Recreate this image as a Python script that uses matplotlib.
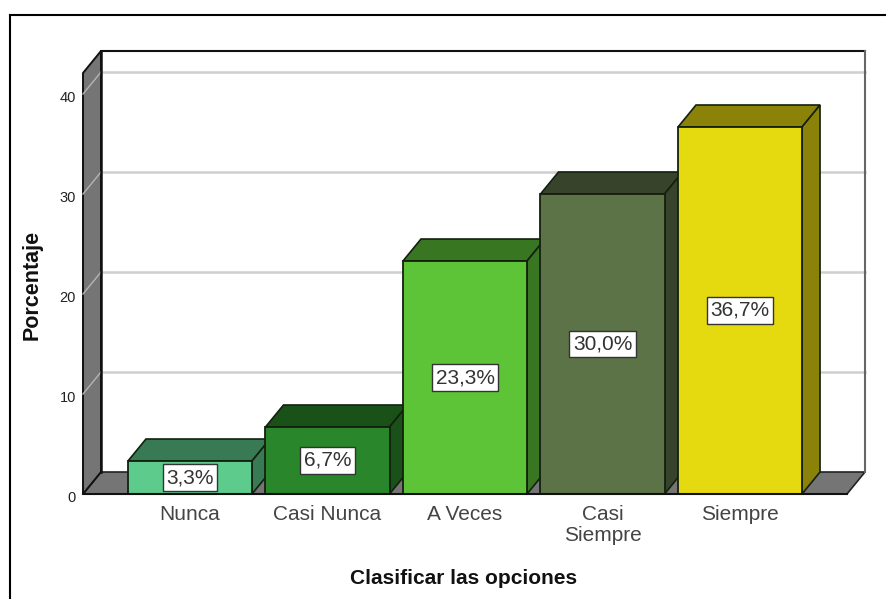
import matplotlib
matplotlib.use('Agg')
import matplotlib.pyplot as plt
from matplotlib.lines import Line2D
from matplotlib.patches import Polygon
from matplotlib.transforms import ScaledTranslation

plt.rcParams['font.family'] = ['Liberation Sans', 'DejaVu Sans']

categorias = ['Nunca', 'Casi Nunca', 'A Veces', 'Casi\nSiempre', 'Siempre']
porcentajes = [3.3, 6.7, 23.3, 30.0, 36.7]
etiquetas = ['3,3%', '6,7%', '23,3%', '30,0%', '36,7%']
marcas_y = [0, 10, 20, 30, 40]

colores_frente = ['#5CCB8C', '#2A862A', '#5EC437', '#5C7247', '#E5D90F']
colores_oscuros = ['#387A54', '#1A5119', '#387622', '#37442B', '#8A8209']

ANCHO, ALTO = 886, 599
fig = plt.figure(figsize=(ANCHO / 100, ALTO / 100), dpi=100, facecolor='white')

# el plano frontal va de x=83 a 847 y de y=73 a 494 (pixeles de la imagen)
ax = fig.add_axes([83 / ANCHO, 1 - 494 / ALTO, (847 - 83) / ANCHO, (494 - 73) / ALTO])
x0, x1 = -0.778, 4.778
y0, y1 = 0, 42.1
ax.set_xlim(x0, x1)
ax.set_ylim(y0, y1)
ax.patch.set_alpha(0)
for s in ax.spines.values():
    s.set_visible(False)

# profundidad en unidades de datos
dx = 18 / 137.5
dy = 2.2
ancho_barra = 0.902
GRIS = '#757575'

# piso y pared izquierda
ax.add_patch(Polygon([(x0, 0), (x1, 0), (x1 + dx, dy), (x0 + dx, dy)], closed=True,
                     facecolor=GRIS, edgecolor='#222222', lw=1.2, zorder=1, clip_on=False))
ax.add_patch(Polygon([(x0, 0), (x0 + dx, dy), (x0 + dx, y1 + dy), (x0, y1)], closed=True,
                     facecolor=GRIS, edgecolor='#111111', lw=1.4, zorder=1, clip_on=False))

# lineas de la pared del fondo
for v in marcas_y[1:]:
    ax.add_line(Line2D([x0 + dx, x1 + dx], [v + dy, v + dy], color='#CFCFCF', lw=1.8,
                       zorder=2, clip_on=False))
    ax.add_line(Line2D([x0, x0 + dx], [v, v + dy], color='#B5B5B5', lw=1.0,
                       zorder=2, clip_on=False))
ax.add_line(Line2D([x0 + dx, x1 + dx], [y1 + dy, y1 + dy], color='#111111', lw=1.5,
                   zorder=3, clip_on=False))
ax.add_line(Line2D([x0 + dx, x0 + dx], [dy, y1 + dy], color='#111111', lw=1.8,
                   zorder=3, clip_on=False))
ax.add_line(Line2D([x1 + dx, x1 + dx], [dy, y1 + dy], color='#666666', lw=1.5,
                   zorder=3, clip_on=False))

# barras, de izquierda a derecha para que cada una tape a la anterior
posiciones = list(range(len(categorias)))
for i, (v, cf, co) in enumerate(zip(porcentajes, colores_frente, colores_oscuros)):
    z = 5 + i
    izq = i - ancho_barra / 2
    der = i + ancho_barra / 2
    ax.add_patch(Polygon([(izq, v), (der, v), (der + dx, v + dy), (izq + dx, v + dy)], closed=True,
                         facecolor=co, edgecolor='#14200F', lw=1.2, zorder=z, clip_on=False))
    ax.add_patch(Polygon([(der, 0), (der + dx, dy), (der + dx, v + dy), (der, v)], closed=True,
                         facecolor=co, edgecolor='#14200F', lw=1.2, zorder=z, clip_on=False))
    ax.bar(i, v, width=ancho_barra, color=cf, edgecolor='#14200F', lw=1.3, zorder=z + 0.5,
           clip_on=False)

for i, (v, et) in enumerate(zip(porcentajes, etiquetas)):
    ax.text(i, v / 2, et, ha='center', va='center', fontsize=15, color='#333333', zorder=20,
            bbox=dict(boxstyle='square,pad=0.17', facecolor='white', edgecolor='#333333', lw=1.0))

# linea de base
ax.add_line(Line2D([x0, x1], [0, 0], color='#111111', lw=1.5, zorder=15, clip_on=False))

ax.set_xticks(posiciones)
ax.set_xticklabels(categorias, fontsize=15, color='#444444', linespacing=1.15)
ax.set_yticks(marcas_y)
ax.set_yticklabels([str(v) for v in marcas_y], fontsize=10.5, color='#222222')
ax.tick_params(axis='x', length=0, pad=8)
ax.tick_params(axis='y', length=0, pad=5)
for et in ax.get_yticklabels():
    # en el original los numeros quedan un poco por debajo de la marca
    et.set_transform(et.get_transform() + ScaledTranslation(0, -2 / 100, fig.dpi_scale_trans))

ax.set_xlabel('Clasificar las opciones', fontsize=15, fontweight='bold', color='#111111')
ax.xaxis.set_label_coords((464 - 83) / (847 - 83), -(579 - 494) / (494 - 73), transform=ax.transAxes)
ax.xaxis.label.set_verticalalignment('center')
ax.set_ylabel('Porcentaje', fontsize=15.5, fontweight='bold', color='#111111')
ax.yaxis.set_label_coords((32 - 83) / (847 - 83), (494 - 285) / (494 - 73), transform=ax.transAxes)
ax.yaxis.label.set_verticalalignment('center')

# marco exterior del grafico
fig.add_artist(Line2D([10 / ANCHO, 10 / ANCHO], [0, 1 - 15 / ALTO], color='black', lw=1.5))
fig.add_artist(Line2D([10 / ANCHO, 1], [1 - 15 / ALTO, 1 - 15 / ALTO], color='black', lw=1.5))

fig.savefig('out.png', dpi=100, facecolor='white')
